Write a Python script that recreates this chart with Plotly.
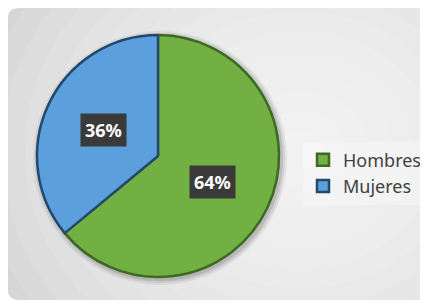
import math
import plotly.graph_objects as go

categories = ["Hombres", "Mujeres"]
values = [64, 36]
colors = ["#72b043", "#5b9fdc"]
edge_colors = ["#3c6a22", "#24496e"]

W, H = 428, 292
OFF = 8  # page body margin
cx, cy, R = 158 - OFF, 156 - OFF, 121  # pie center/radius in figure pixels

dom_x = [(cx - R) / W, (cx + R) / W]
dom_y = [(H - cy - R) / H, (H - cy + R) / H]

fig = go.Figure()
fig.add_trace(go.Pie(
    labels=categories, values=values, sort=False, direction="clockwise", rotation=0,
    marker=dict(colors=colors, line=dict(color=edge_colors, width=2.5)),
    textinfo="none", hoverinfo="label+percent",
    domain=dict(x=dom_x, y=dom_y),
))

total = sum(values)
ann = []
start = 0.0
for v in values:
    mid = start + v / total * 360 / 2
    start += v / total * 360
    th = math.radians(mid)
    px = cx + 0.5 * R * math.sin(th)
    py = cy - 0.5 * R * math.cos(th)
    ann.append(dict(x=px / W, y=(H - py) / H, xref="paper", yref="paper",
                    text="<b>%d%%</b>" % round(v / total * 100), showarrow=False,
                    font=dict(family="Noto Sans", size=18, color="white"),
                    bgcolor="#3a3a3a", borderpad=4, xanchor="center", yanchor="middle"))

def rrect(x0, y0, x1, y1, r):
    return (f"M{x0+r},{y0} L{x1-r},{y0} Q{x1},{y0} {x1},{y0+r} L{x1},{y1-r} Q{x1},{y1} {x1-r},{y1} "
            f"L{x0+r},{y1} Q{x0},{y1} {x0},{y1-r} L{x0},{y0+r} Q{x0},{y0} {x0+r},{y0} Z")

shapes = [dict(type="path", xref="paper", yref="paper",
               path=rrect(0, 0, 1.05, 1, 0.03),
               fillcolor="#d6d6d6", line=dict(width=0), layer="below")]
hx, hy = (300 - OFF) / W, (H - (150 - OFF)) / H
n = 14
for i in range(n):
    f = 1 - i / n
    rx, ry = 0.75 * f, 0.95 * f
    shapes.append(dict(type="circle", xref="paper", yref="paper",
                       x0=hx - rx, x1=hx + rx, y0=hy - ry, y1=hy + ry,
                       fillcolor="rgba(255,255,255,0.10)", line=dict(width=0), layer="below"))
for s, op in [(6, 0.08), (4, 0.10), (2, 0.14)]:
    shapes.append(dict(type="circle", xref="paper", yref="paper",
                       xsizemode="pixel", ysizemode="pixel",
                       xanchor=(cx + 2) / W, yanchor=(H - cy - 2) / H,
                       x0=-R - s, x1=R + s, y0=-R - s, y1=R + s,
                       fillcolor=f"rgba(60,60,60,{op})", line=dict(width=0), layer="below"))

fig.update_layout(
    width=W, height=H, margin=dict(l=0, r=0, t=0, b=0),
    paper_bgcolor="white", plot_bgcolor="white",
    shapes=shapes, annotations=ann,
    legend=dict(x=(303 - OFF) / W, y=(H - (173 - OFF)) / H, xanchor="left", yanchor="middle",
                font=dict(family="Noto Sans", size=18, color="#404040"),
                bgcolor="rgba(255,255,255,0.3)", tracegroupgap=0, itemwidth=30),
    showlegend=True,
)

fig.write_html("out.html")
